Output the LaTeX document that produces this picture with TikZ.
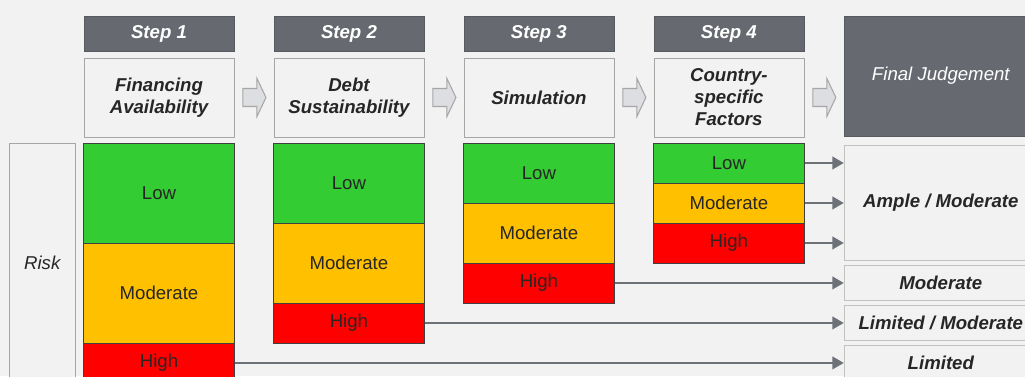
\documentclass[tikz,border=0pt]{standalone}
\usepackage{fontspec}
\setmainfont{Liberation Sans}
\usepackage{xcolor}
\usepackage{tikz}
\usetikzlibrary{arrows.meta,positioning}

\definecolor{bggray}{HTML}{F2F2F2}
\definecolor{hdrgray}{HTML}{666A70}
\definecolor{lowgreen}{HTML}{33CC33}
\definecolor{modyellow}{HTML}{FFC000}
\definecolor{highred}{HTML}{FF0000}
\definecolor{linegray}{HTML}{6D7178}
\definecolor{framegray}{HTML}{A6A6A6}
\definecolor{chevfill}{HTML}{DDDEE1}
\definecolor{txtdark}{HTML}{262626}

\begin{document}
\begin{tikzpicture}[
    x=0.02cm, y=-0.02cm,
    node distance=0.8cm,
    every node/.style={outer sep=0pt},
    txt/.style={font=\fontsize{10.6}{12.5}\selectfont},
    header/.style={
        txt,
        fill=hdrgray,
        draw=hdrgray!85!black,
        text=white,
        font=\fontsize{10.6}{12.5}\selectfont\bfseries\itshape,
        minimum width=3cm,
        minimum height=0.7cm,
        inner sep=0pt
    },
    titlebox/.style={
        fill=bggray,
        draw=framegray,
        align=center,
        text=txtdark,
        font=\fontsize{10.6}{12.5}\selectfont\bfseries\itshape,
        minimum width=3cm,
        minimum height=1.58cm,
        inner sep=0pt
    },
    level/.style={
        txt,
        draw=black!75,
        text=txtdark,
        minimum width=3.03cm,
        inner sep=0pt
    },
    lowbox/.style={level, fill=lowgreen},
    modbox/.style={level, fill=modyellow},
    highbox/.style={level, fill=highred, minimum height=0.8cm},
    resultbox/.style={
        fill=bggray,
        draw=framegray!70,
        text=txtdark,
        font=\fontsize{10.6}{12.5}\selectfont\bfseries\itshape,
        minimum width=3.88cm,
        minimum height=0.7cm,
        inner sep=0pt
    },
    chevron/.style={fill=chevfill, draw=framegray, line width=0.6pt},
    link/.style={-{Triangle[length=6.5pt,width=7pt]}, draw=linegray, line width=1.6pt}
]
\fill[bggray] (0,0) rectangle (1025,376);
\useasboundingbox (0,0) rectangle (1025,376);

% step headers
\node[header, anchor=north west] (step1) at (84,16) {Step 1};
\node[header, right=of step1] (step2) {Step 2};
\node[header, right=of step2] (step3) {Step 3};
\node[header, right=of step3] (step4) {Step 4};
\node[header, right=0.8cm of step4.north east, anchor=north west,
      minimum width=3.88cm, minimum height=2.4cm,
      font=\fontsize{10.6}{12.5}\selectfont\itshape] (final) {Final Judgement};

% step titles
\node[titlebox, below=0.14cm of step1] (title1) {Financing\\Availability};
\node[titlebox, below=0.14cm of step2] (title2) {Debt\\Sustainability};
\node[titlebox, below=0.14cm of step3] (title3) {Simulation};
\node[titlebox, below=0.14cm of step4] (title4) {Country-\\specific\\Factors};

\foreach \t in {1,2,3,4}
    \draw[chevron] (title\t.east) ++(9,-9) -- ++(14,0) -- ++(0,-10) -- ++(9,19)
        -- ++(-9,19) -- ++(0,-10) -- ++(-14,0) -- cycle;

% risk levels per step
\node[lowbox, below=0.12cm of title1, minimum height=2cm] (low1) {Low};
\node[modbox, below=0cm of low1, minimum height=2cm] (mod1) {Moderate};
\node[highbox, below=0cm of mod1] (high1) {High};

\node[lowbox, below=0.12cm of title2, minimum height=1.6cm] (low2) {Low};
\node[modbox, below=0cm of low2, minimum height=1.6cm] (mod2) {Moderate};
\node[highbox, below=0cm of mod2] (high2) {High};

\node[lowbox, below=0.12cm of title3, minimum height=1.2cm] (low3) {Low};
\node[modbox, below=0cm of low3, minimum height=1.2cm] (mod3) {Moderate};
\node[highbox, below=0cm of mod3] (high3) {High};

\node[lowbox, below=0.12cm of title4, minimum height=0.8cm] (low4) {Low};
\node[modbox, below=0cm of low4, minimum height=0.8cm] (mod4) {Moderate};
\node[highbox, below=0cm of mod4] (high4) {High};

\node[fill=bggray, draw=framegray, minimum width=1.32cm, minimum height=4.8cm,
      font=\fontsize{10.6}{12.5}\selectfont\itshape, text=txtdark,
      left=0.16cm of low1.north west, anchor=north east] (risk) {Risk};

% final judgements
\node[resultbox, below=0.18cm of final.south west, anchor=north west,
      minimum height=2.3cm] (ample) {Ample / Moderate};
\node[resultbox, below=0.1cm of ample] (moderate) {Moderate};
\node[resultbox, below=0.1cm of moderate] (limmod) {Limited / Moderate};
\node[resultbox, below=0.1cm of limmod] (limited) {Limited};

\draw[link] (low4.east) -- (low4.east -| ample.west);
\draw[link] (mod4.east) -- (mod4.east -| ample.west);
\draw[link] (high4.east) -- (high4.east -| ample.west);
\draw[link] (high3.east) -- (high3.east -| moderate.west);
\draw[link] (high2.east) -- (high2.east -| limmod.west);
\draw[link] (high1.east) -- (high1.east -| limited.west);
\end{tikzpicture}
\end{document}
